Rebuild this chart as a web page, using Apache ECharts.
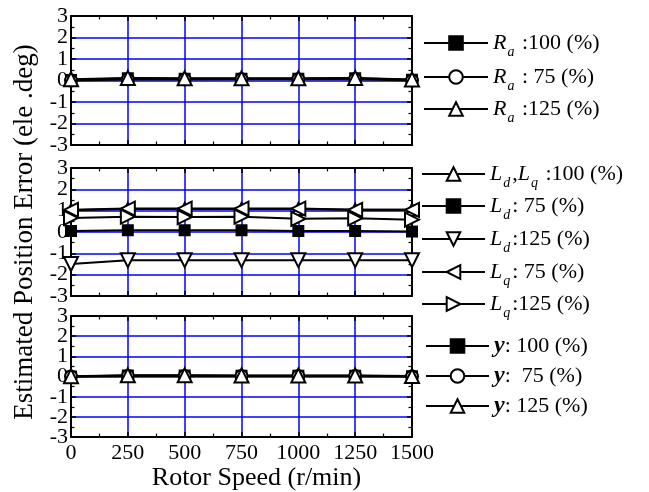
<!DOCTYPE html>
<html><head><meta charset="utf-8">
<script src="https://cdn.jsdelivr.net/npm/echarts@6/dist/echarts.min.js"></script>
<style>html,body{margin:0;padding:0;background:#fff}#c{width:649px;height:492px}</style>
</head><body><div id="c"></div>
<script>
const speeds = [0, 250, 500, 750, 1000, 1250, 1500];
const xTicks = ['0', '250', '500', '750', '1000', '1250', '1500'];
const yRange = [-3, 3];
const yLabelsOdd = [-3, -1, 1, 3];
const yLabelsEven = [-2, 0, 2];

// Panel 1: Ra variation
const ra100 = [0.02, 0.10, 0.08, 0.08, 0.08, 0.10, 0.03];
const ra75  = [0.00, 0.05, 0.05, 0.06, 0.06, 0.06, 0.00];
const ra125 = [0.06, 0.12, 0.10, 0.10, 0.10, 0.12, 0.05];
// Panel 2: Ld, Lq variation
const ldlq100 = [1.02, 1.08, 1.08, 1.08, 1.08, 1.04, 1.04];
const ld75    = [0.05, 0.08, 0.08, 0.08, 0.05, 0.05, 0.02];
const ld125   = [-1.50, -1.32, -1.32, -1.32, -1.32, -1.32, -1.32];
const lq75    = [1.04, 1.10, 1.10, 1.10, 1.10, 1.04, 1.04];
const lq125   = [0.66, 0.72, 0.70, 0.72, 0.62, 0.64, 0.58];
// Panel 3: flux (psi) variation
const y100 = [0.00, 0.05, 0.05, 0.04, 0.04, 0.04, 0.02];
const y75  = [0.00, 0.03, 0.03, 0.03, 0.03, 0.03, 0.00];
const y125 = [0.02, 0.06, 0.06, 0.05, 0.05, 0.05, 0.03];

const FONT = '"Liberation Serif", "DejaVu Serif", serif';
const pair = a => speeds.map((s, i) => [s, a[i]]);

const grids = [
  {left: 71, top: 16, width: 341, height: 129},
  {left: 71, top: 168, width: 341, height: 128},
  {left: 71, top: 316, width: 341, height: 129}
];

const labelStyle = {color: '#000', fontFamily: FONT, fontSize: 22};
const xAxes = [], yAxes = [];
grids.forEach((g, i) => {
  const common = {
    type: 'value', gridIndex: i,
    axisLine: {show: true, onZero: false, lineStyle: {color: '#000', width: 2}},
    axisTick: {show: true, inside: true, length: 5, lineStyle: {color: '#000', width: 1.5}},
    minorTick: {show: true, splitNumber: 2, length: 3.5, lineStyle: {color: '#000', width: 1.2}},
  };
  xAxes.push(Object.assign({}, common, {
    position: 'bottom', min: 0, max: 1500, interval: 250,
    splitLine: {show: true, lineStyle: {color: '#0000ff', width: 1.5}},
    axisLabel: Object.assign({show: i === 2, margin: 5, showMinLabel: true, showMaxLabel: true,
      formatter: v => xTicks[speeds.indexOf(v)]}, labelStyle),
    name: i === 2 ? 'Rotor Speed (r/min)' : '', nameLocation: 'middle', nameGap: 23,
    nameTextStyle: {color: '#000', fontFamily: FONT, fontSize: 26, padding: [0, 0, 0, 30]}
  }));
  xAxes.push(Object.assign({}, common, {
    position: 'top', min: 0, max: 1500, interval: 250,
    splitLine: {show: false}, axisLabel: {show: false}
  }));
  yAxes.push(Object.assign({}, common, {
    position: 'left', min: yRange[0], max: yRange[1], interval: 1,
    splitLine: {show: true, lineStyle: {color: '#0000ff', width: 1.5}},
    axisLabel: Object.assign({show: true, margin: 3, customValues: yLabelsOdd}, labelStyle),
    name: i === 1 ? 'Estimated Position Error (ele .deg)' : '', nameLocation: 'middle', nameGap: 31,
    nameTextStyle: {color: '#000', fontFamily: FONT, fontSize: 27}
  }));
  yAxes.push(Object.assign({}, common, {
    position: 'right', min: yRange[0], max: yRange[1], interval: 1,
    splitLine: {show: false}, axisLabel: {show: false}
  }));
  yAxes.push({
    type: 'value', gridIndex: i, position: 'left', min: yRange[0], max: yRange[1], interval: 1,
    axisLine: {show: false}, axisTick: {show: false}, minorTick: {show: false},
    splitLine: {show: false},
    axisLabel: Object.assign({show: true, margin: 3, customValues: yLabelsEven}, labelStyle)
  });
});

function mk(name, data, panel, symbol, size, fill, rot) {
  return {
    name, type: 'line', data: pair(data),
    xAxisIndex: panel * 2, yAxisIndex: panel * 3,
    symbol, symbolSize: size, symbolRotate: rot || 0,
    showAllSymbol: true,
    lineStyle: {color: '#000', width: 2},
    itemStyle: {color: fill, borderColor: '#000', borderWidth: 2},
    emphasis: {disabled: true},
    animation: false
  };
}

const series = [
  mk('Ra100', ra100, 0, 'rect', 10, '#000'),
  mk('Ra75', ra75, 0, 'circle', 12, '#fff'),
  mk('Ra125', ra125, 0, 'triangle', 14, '#fff'),
  mk('LdLq100', ldlq100, 1, 'triangle', 12, '#fff'),
  mk('Ld75', ld75, 1, 'rect', 10, '#000'),
  mk('Ld125', ld125, 1, 'triangle', 14, '#fff', 180),
  mk('Lq75', lq75, 1, 'triangle', 14, '#fff', 90),
  mk('Lq125', lq125, 1, 'triangle', 14, '#fff', -90),
  mk('y100', y100, 2, 'rect', 10, '#000'),
  mk('y75', y75, 2, 'circle', 12, '#fff'),
  mk('y125', y125, 2, 'triangle', 14, '#fff')
];

const labels = {
  Ra100: '{i|R}{s|a}{n| :100 (%)}',
  Ra75: '{i|R}{s|a}{n| : 75 (%)}',
  Ra125: '{i|R}{s|a}{n| :125 (%)}',
  LdLq100: '{i|L}{s|d}{n|,}{i|L}{s|q}{n| :100 (%)}',
  Ld75: '{i|L}{s|d}{n|: 75 (%)}',
  Ld125: '{i|L}{s|d}{n|:125 (%)}',
  Lq75: '{i|L}{s|q}{n|: 75 (%)}',
  Lq125: '{i|L}{s|q}{n|:125 (%)}',
  y100: '{b|y}{n|: 100 (%)}',
  y75: '{b|y}{n|:  75 (%)}',
  y125: '{b|y}{n|: 125 (%)}'
};

const rich = {
  i: {fontFamily: FONT, fontSize: 22, fontStyle: 'italic', color: '#000', lineHeight: 34},
  n: {fontFamily: FONT, fontSize: 22, color: '#000', lineHeight: 34},
  b: {fontFamily: FONT, fontSize: 24, fontStyle: 'italic', fontWeight: 'bold', color: '#000', lineHeight: 34},
  s: {fontFamily: FONT, fontSize: 14, fontStyle: 'italic', color: '#000', lineHeight: 16, padding: [18, 2, 0, 1]}
};

// legend placement: [name, left, centerY, itemWidth]
const legendPos = [
  ['Ra100', 423, 44, 64], ['Ra75', 423, 78, 64], ['Ra125', 423, 110, 64],
  ['LdLq100', 421, 175, 63], ['Ld75', 421, 207, 63], ['Ld125', 421, 240, 63],
  ['Lq75', 421, 273, 63], ['Lq125', 421, 305, 63],
  ['y100', 425, 351, 63], ['y75', 425, 381, 63], ['y125', 425, 411, 63]
];
const legends = legendPos.map(([name, left, cy, w]) => ({
  data: [name], left, top: cy - 17, orient: 'vertical', padding: 0,
  itemWidth: w, itemHeight: 17, selectedMode: false,
  formatter: n => labels[n], textStyle: {rich, color: '#000'}
}));

const chart = echarts.init(document.getElementById('c'), null, {renderer: 'canvas'});
chart.setOption({
  backgroundColor: '#fff',
  animation: false,
  grid: grids,
  xAxis: xAxes,
  yAxis: yAxes,
  legend: legends,
  series
});
</script></body></html>
